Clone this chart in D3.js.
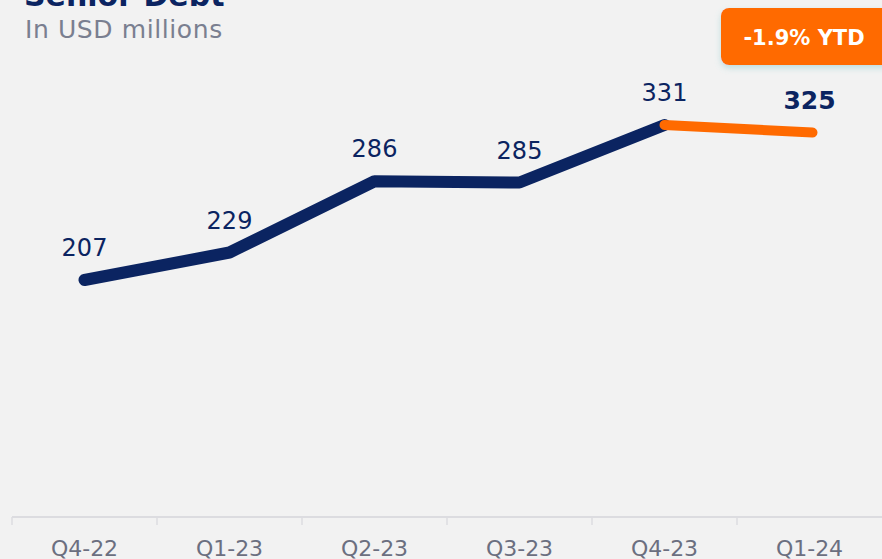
<!DOCTYPE html>
<html><head><meta charset="utf-8">
<script src="https://cdn.jsdelivr.net/npm/d3@7"></script>
<style>html,body{margin:0;padding:0;background:#f2f2f2;overflow:hidden}</style>
</head><body>
<svg id="c" width="882" height="559"></svg>
<script>
const categories = ["Q4-22","Q1-23","Q2-23","Q3-23","Q4-23","Q1-24"];
const values = [207,229,286,285,331,325];
const title = "Senior Debt";
const subtitle = "In USD millions";
const badgeText = "-1.9% YTD";

const svg = d3.select("#c");
svg.append("rect").attr("width",882).attr("height",559).attr("fill","#f2f2f2");
const navy = "#0b2461", orange = "#ff6a00";
const font = "'DejaVu Sans', sans-serif";

const x = d3.scaleBand().domain(categories).range([12, 882]);
const y = d3.scaleLinear().domain([0, 340]).range([538.75, 113.75]);
const cx = (c,i) => x(c) + x.bandwidth()/2 + (i===5 ? 3 : 0);

// axis
svg.append("line").attr("x1",12).attr("x2",882).attr("y1",517).attr("y2",517)
  .attr("stroke","#dcdce0").attr("stroke-width",2);
const edges = categories.map(c => x(c));
svg.selectAll(".tk").data(edges).join("line")
  .attr("x1",d=>d).attr("x2",d=>d).attr("y1",517).attr("y2",525)
  .attr("stroke","#dcdce0").attr("stroke-width",1.5);
svg.selectAll(".xl").data(categories).join("text")
  .attr("x",c=>x(c)+x.bandwidth()/2).attr("y",556).attr("text-anchor","middle")
  .attr("font-family",font).attr("font-size",22).attr("fill","#6b6f80").text(d=>d);

// lines
const pts = values.map((v,i)=>[cx(categories[i],i), y(v)]);
const line = d3.line();
svg.append("path").attr("d", line(pts.slice(0,5))).attr("fill","none")
  .attr("stroke",navy).attr("stroke-width",12).attr("stroke-linecap","round").attr("stroke-linejoin","round");
svg.append("path").attr("d", line(pts.slice(4))).attr("fill","none")
  .attr("stroke",orange).attr("stroke-width",10).attr("stroke-linecap","round");

// labels
svg.selectAll(".vl").data(values).join("text")
  .attr("x",(v,i)=>pts[i][0] - (i===5?3:0)).attr("y",(v,i)=>pts[i][1]-24)
  .attr("text-anchor","middle").attr("font-family",font)
  .attr("font-size",(v,i)=>i===5?25:24).attr("font-weight",(v,i)=>i===5?700:400)
  .attr("fill",navy).text(d=>d);

// titles
svg.append("text").attr("x",24).attr("y",6).attr("font-family",font)
  .attr("font-size",30).attr("font-weight",700).attr("fill",navy).text(title);
svg.append("text").attr("x",25).attr("y",38).attr("font-family",font)
  .attr("font-size",25).attr("letter-spacing",0.6).attr("fill","#7a7f90").text(subtitle);

// badge
const defs = svg.append("defs");
const f = defs.append("filter").attr("id","sh").attr("x","-20%").attr("y","-20%").attr("width","140%").attr("height","160%");
f.append("feDropShadow").attr("dx",0).attr("dy",3).attr("stdDeviation",3).attr("flood-color","#5fb8b8").attr("flood-opacity",0.35);
svg.append("rect").attr("x",721).attr("y",8).attr("width",180).attr("height",57).attr("rx",8)
  .attr("fill",orange).attr("filter","url(#sh)");
svg.append("text").attr("x",804).attr("y",45).attr("text-anchor","middle").attr("font-family",font)
  .attr("font-size",21).attr("font-weight",700).attr("fill","#fff").text(badgeText);
</script>
</body></html>
